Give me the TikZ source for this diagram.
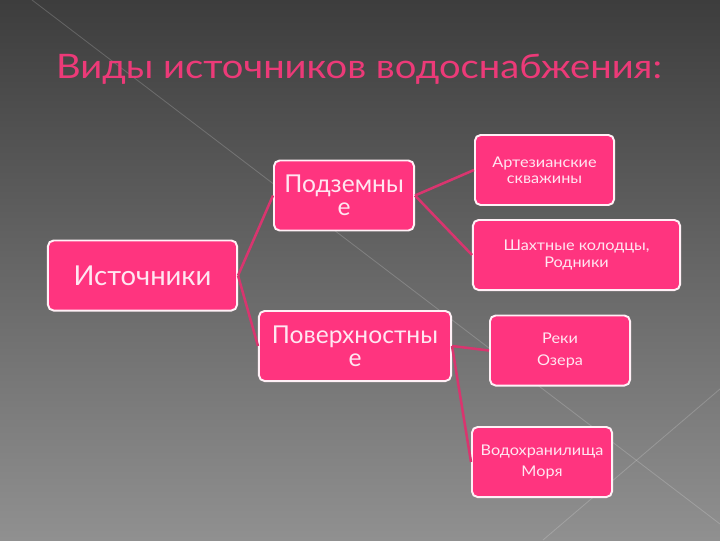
\documentclass[tikz,border=0pt]{standalone}
\usepackage{fontspec}
\setmainfont{Lato}
\newfontfamily\widefont[FakeStretch=1.1]{Lato}
\newfontfamily\titlefont[FakeStretch=1.13]{Lato}
\usepackage{tikz}
\usetikzlibrary{positioning}
\definecolor{srcPink}{HTML}{FF347F}
\definecolor{srcEdge}{HTML}{FFF0F6}
\definecolor{srcText}{HTML}{FFE6F1}
\definecolor{srcLink}{HTML}{D9356F}
\definecolor{srcTitle}{HTML}{EC3A78}
\definecolor{bgTop}{HTML}{3D3D3D}
\definecolor{bgBottom}{HTML}{909090}
\tikzset{
  srcbox/.style={rectangle,draw=srcEdge,line width=1.4pt,fill=srcPink,rounded corners=4pt,
    minimum height=1.75cm,align=center,text=srcText,inner sep=1pt},
  bigbox/.style={srcbox,font=\fontsize{19.5}{22}\selectfont},
  midbox/.style={srcbox,font=\fontsize{17.5}{16.5}\selectfont},
  smallbox/.style={srcbox,font=\widefont\fontsize{10.5}{11.5}\selectfont},
  loosebox/.style={srcbox,font=\widefont\fontsize{10.5}{15.5}\selectfont},
  link/.style={draw=srcLink,line width=1.8pt},
  bgline/.style={draw=white,opacity=0.18,line width=0.6pt}
}
\begin{document}
\begin{tikzpicture}[x=0.025cm,y=-0.025cm]
  \useasboundingbox (0,0) rectangle (720,540);
  \fill[top color=bgTop,bottom color=bgBottom] (0,0) rectangle (720,540);
  \draw[bgline] (32,0) -- (720,524);
  \draw[bgline] (720,389) -- (543,540);
  \node[anchor=base,text=srcTitle,font=\titlefont\fontsize{24}{28}\selectfont] (title) at (359,78)
    {Виды источников водоснабжения:};
  \node[bigbox,minimum width=4.725cm] (src) at (142.5,275.5) {Источники};
  \node[midbox,minimum width=3.5cm] (under) at (344,195.5) {Подземны\\е};
  \node[midbox,minimum width=4.8cm] (surf) at (355,346) {Поверхностны\\е};
  \node[smallbox,minimum width=3.475cm] (artes) at (544.5,170) {Артезианские\\скважины};
  \node[smallbox,minimum width=5.175cm] (wells) at (576.5,255) {Шахтные колодцы,\\Родники};
  \node[loosebox,minimum width=3.5cm] (rivers) at (560,350.5) {Реки\\Озера};
  \node[loosebox,minimum width=3.5cm] (reserv) at (542,462) {Водохранилища\\Моря};
  \draw[link] (src.east) -- (under.west);
  \draw[link] (src.east) -- (surf.west);
  \draw[link] (under.east) -- (artes.west);
  \draw[link] (under.east) -- (wells.west);
  \draw[link] (surf.east) -- (rivers.west);
  \draw[link] (surf.east) -- (reserv.west);
\end{tikzpicture}
\end{document}
